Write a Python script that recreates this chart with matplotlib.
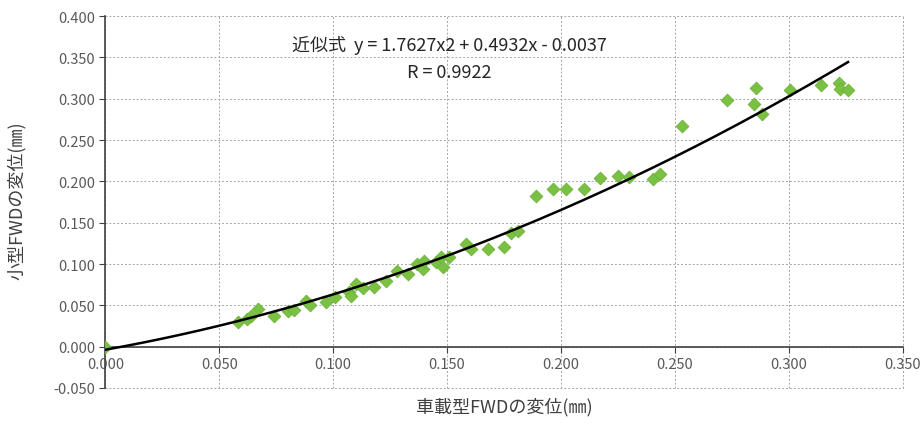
import numpy as np
import matplotlib
matplotlib.use('Agg')
import matplotlib.pyplot as plt

plt.rcParams['font.family'] = ['Noto Sans CJK JP', 'DejaVu Sans']

# 車載型FWD / 小型FWD の変位 (mm)
x_fwd = [0.000, 0.0584, 0.062, 0.064, 0.067, 0.074, 0.080, 0.083, 0.088, 0.090,
         0.097, 0.101, 0.107, 0.108, 0.110, 0.113, 0.118, 0.123, 0.128, 0.133,
         0.1366, 0.1395, 0.140, 0.145, 0.1475, 0.148, 0.151, 0.1585, 0.1607, 0.168,
         0.175, 0.178, 0.181, 0.189, 0.1965, 0.202, 0.210, 0.2173, 0.225, 0.2298,
         0.2404, 0.2433, 0.253, 0.2728, 0.2847, 0.2854, 0.2883, 0.3003, 0.3142, 0.322,
         0.3225, 0.326]
y_fwd = [0.000, 0.030, 0.033, 0.037, 0.046, 0.037, 0.043, 0.044, 0.055, 0.051,
         0.054, 0.060, 0.066, 0.061, 0.076, 0.071, 0.072, 0.079, 0.091, 0.088,
         0.100, 0.094, 0.104, 0.102, 0.108, 0.096, 0.108, 0.124, 0.118, 0.118,
         0.120, 0.138, 0.140, 0.182, 0.191, 0.191, 0.191, 0.204, 0.206, 0.205,
         0.203, 0.209, 0.267, 0.298, 0.294, 0.313, 0.282, 0.310, 0.317, 0.319,
         0.312, 0.311]

# 近似式の係数
coef = [1.7627, 0.4932, -0.0037]
r_value = 0.9922

fig = plt.figure(figsize=(9.24, 4.27), dpi=100)
ax = fig.add_axes([0.114, 0.089, 0.863, 0.871])

ax.scatter(x_fwd, y_fwd, marker='D', s=42, color='#7AC143',
           edgecolors='#6AB336', linewidths=0.6, zorder=3)

xs = np.linspace(min(x_fwd), max(x_fwd), 200)
ax.plot(xs, np.polyval(coef, xs), color='black', lw=1.8, zorder=4)

ax.set_xlim(0, 0.35)
ax.set_ylim(-0.05, 0.4)
ax.set_xticks(np.arange(0, 0.351, 0.05))
ax.set_yticks(np.arange(-0.05, 0.401, 0.05))
ax.xaxis.set_major_formatter(matplotlib.ticker.FormatStrFormatter('%.3f'))
ax.yaxis.set_major_formatter(matplotlib.ticker.FormatStrFormatter('%.3f'))

ax.grid(True, color='#A6A6A6', linestyle=(0, (2, 2)), lw=0.7, clip_on=False)
ax.set_axisbelow(True)

for side in ['top', 'right']:
    ax.spines[side].set_visible(False)
ax.spines['bottom'].set_position(('data', 0))
ax.spines['bottom'].set_color('#404040')
ax.spines['left'].set_color('#404040')
ax.spines['bottom'].set_linewidth(1.2)
ax.spines['left'].set_linewidth(1.2)
ax.tick_params(axis='both', colors='#404040', labelcolor='#595959',
               labelsize=10.5, length=4, direction='out')

ax.set_xlabel('車載型FWDの変位(㎜)', fontsize=13, color='#404040')
ax.xaxis.set_label_coords(0.5, -0.025)
ax.set_ylabel('小型FWDの変位(㎜)', fontsize=13, color='#404040')
ax.yaxis.set_label_coords(-0.099, 0.505)

ax.text(0.151, 0.366, '近似式  y = 1.7627x2 + 0.4932x - 0.0037',
        ha='center', va='center', fontsize=13, color='#262626')
ax.text(0.151, 0.332, 'R = %.4f' % r_value,
        ha='center', va='center', fontsize=13, color='#262626')

fig.savefig('out.png', dpi=100)
